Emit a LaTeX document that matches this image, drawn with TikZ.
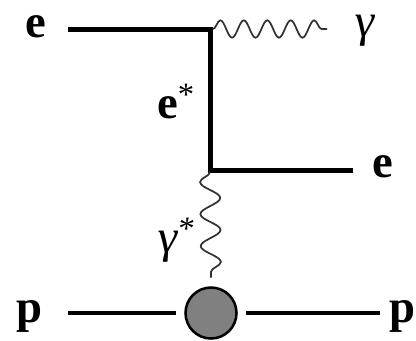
\documentclass[tikz,border=0pt]{standalone}
\usepackage{fontspec}
\setmainfont{Liberation Serif}
\newfontfamily\gamfont[FakeSlant=0.12]{Liberation Serif}
\usepackage{tikz}
\usetikzlibrary{calc,shapes}
\usetikzlibrary{decorations.pathmorphing}
\usetikzlibrary{positioning}

\tikzset{
  fermion/.style={line width=3.75pt},
  proton/.style={line width=3.2pt},
  photon/.style={line width=1.3pt, draw={rgb, 255:red, 50; green, 50; blue, 50},
    decorate, decoration={snake, segment length=17.6pt, amplitude=6.5pt}},
  vphoton/.style={photon, decoration={snake, segment length=24pt, amplitude=-7.5pt}},
  partlbl/.style={inner sep=0pt, anchor=base west, font=\fontsize{35}{35}\selectfont\bfseries},
  gamlbl/.style={inner sep=0pt, anchor=base west, font=\fontsize{35}{35}\gamfont},
}

\begin{document}
\begin{tikzpicture}[x=0.75pt,y=0.75pt,yscale=-1,xscale=1]
\useasboundingbox (0,0) rectangle (416,340);

%Vertices
\coordinate (ein) at (68,29);
\coordinate (vtop) at (210,29);
\coordinate (vbot) at (210,170);
\coordinate (eout) at (353,170);
\coordinate (gout) at (327,29);
\coordinate (pin) at (68,313);
\coordinate (pout) at (380,313);

%Shape: Circle
\node (blob) [circle, minimum size=52.5pt, inner sep=0pt] at (211,313) {};

%Straight Lines
\draw [fermion]  (ein) -- (vtop) -- (vbot) -- (eout) ;
%Curve Lines
\draw [photon]  ($(vtop)+(3,0)$) -- (gout) ;
\draw [vphoton]  ($(vbot)+(0,2)$) -- (blob.north) ;
%Straight Lines
\draw [proton]  (pin) -- (blob.west) ;
\draw [proton]  (blob.east) -- (pout) ;
%Shape: Circle
\draw [line width=1.9pt, fill={rgb, 255:red, 128; green, 128; blue, 128 }]  (211,313) circle (25.5) ;

%Labels
\node (ein-l) [partlbl] at (25,37) {e};
\node (gout-l) [gamlbl] at (353,36) {γ};
\node (estar-l) [partlbl] at (157,118) {e\textsuperscript{\mdseries *}};
\node (eout-l) [partlbl] at (372,177) {e};
\node (gstar-l) [gamlbl] at (156,252) {γ\textsuperscript{*}};
\node (pin-l) [partlbl] at (16,322) {p};
\node (pout-l) [partlbl] at (389,322) {p};

\end{tikzpicture}
\end{document}
